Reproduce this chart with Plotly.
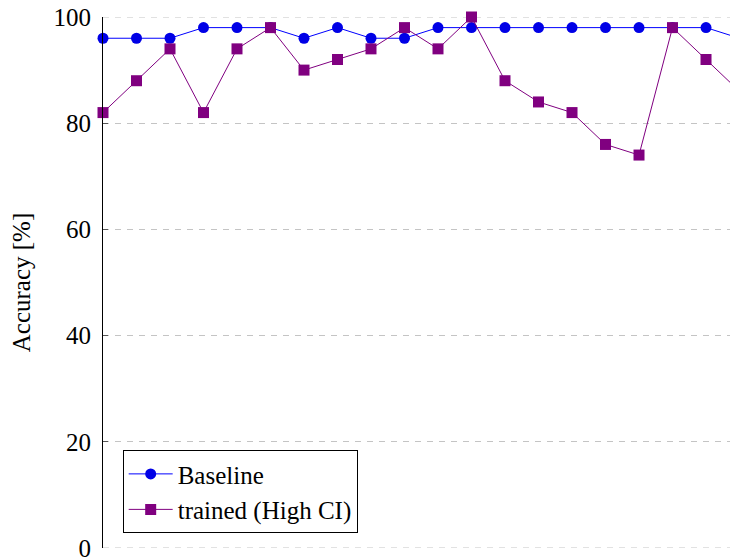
import plotly.graph_objects as go

runs = list(range(1, 21))
baseline = [96, 96, 96, 98, 98, 98, 96, 98, 96, 96, 98, 98, 98, 98, 98, 98, 98, 98, 98, 96]
trained = [82, 88, 94, 82, 94, 98, 90, 92, 94, 98, 94, 100, 88, 84, 82, 76, 74, 98, 92, 86]
y_ticks = [0, 20, 40, 60, 80, 100]

font_family = "Liberation Serif, DejaVu Serif, serif"
grid_color = "#c4c4c4"
grid_dash = "6px,6px"

fig = go.Figure()
fig.add_trace(go.Scatter(
    x=runs, y=baseline, mode="lines+markers", name="Baseline",
    line=dict(color="#0000ff", width=1),
    marker=dict(symbol="circle", size=11, color="#0000e6"),
    cliponaxis=False,
))
fig.add_trace(go.Scatter(
    x=runs, y=trained, mode="lines+markers", name="trained (High CI)",
    line=dict(color="#800080", width=1),
    marker=dict(symbol="square", size=11, color="#800080"),
    cliponaxis=False,
))

# grid lines at the range ends (plotly omits them at the edges)
for v in (y_ticks[0], y_ticks[-1]):
    fig.add_shape(type="line", xref="paper", yref="y", x0=0, x1=1, y0=v, y1=v,
                  line=dict(color=grid_color, width=1, dash=grid_dash), layer="below")

fig.update_layout(
    width=730, height=550,
    margin=dict(l=95, r=0, t=9, b=10, autoexpand=False),
    plot_bgcolor="white", paper_bgcolor="white",
    font=dict(family=font_family, size=25, color="black"),
    showlegend=True,
    legend=dict(
        x=0.031, y=0.028, xanchor="left", yanchor="bottom",
        bordercolor="black", borderwidth=1, bgcolor="white",
        font=dict(family=font_family, size=25),
        itemwidth=44, tracegroupgap=0,
    ),
    xaxis=dict(
        range=[1, 19.955], showgrid=False, zeroline=False, showline=False,
        showticklabels=False, ticks="", automargin=False,
    ),
    yaxis=dict(
        range=[0, 100], tickvals=y_ticks, ticktext=[str(v) for v in y_ticks],
        showgrid=True, gridcolor=grid_color, gridwidth=1, griddash=grid_dash,
        zeroline=False, showline=True, linecolor="black", linewidth=1,
        ticks="inside", ticklen=5, tickcolor="#555555", mirror="ticks",
        ticklabelstandoff=6, ticklabeloverflow="allow",
        title=dict(text="Accuracy [%]", font=dict(family=font_family, size=25), standoff=30),
        tickfont=dict(family=font_family, size=25),
        automargin=False,
    ),
)

fig.write_html("out.html")
